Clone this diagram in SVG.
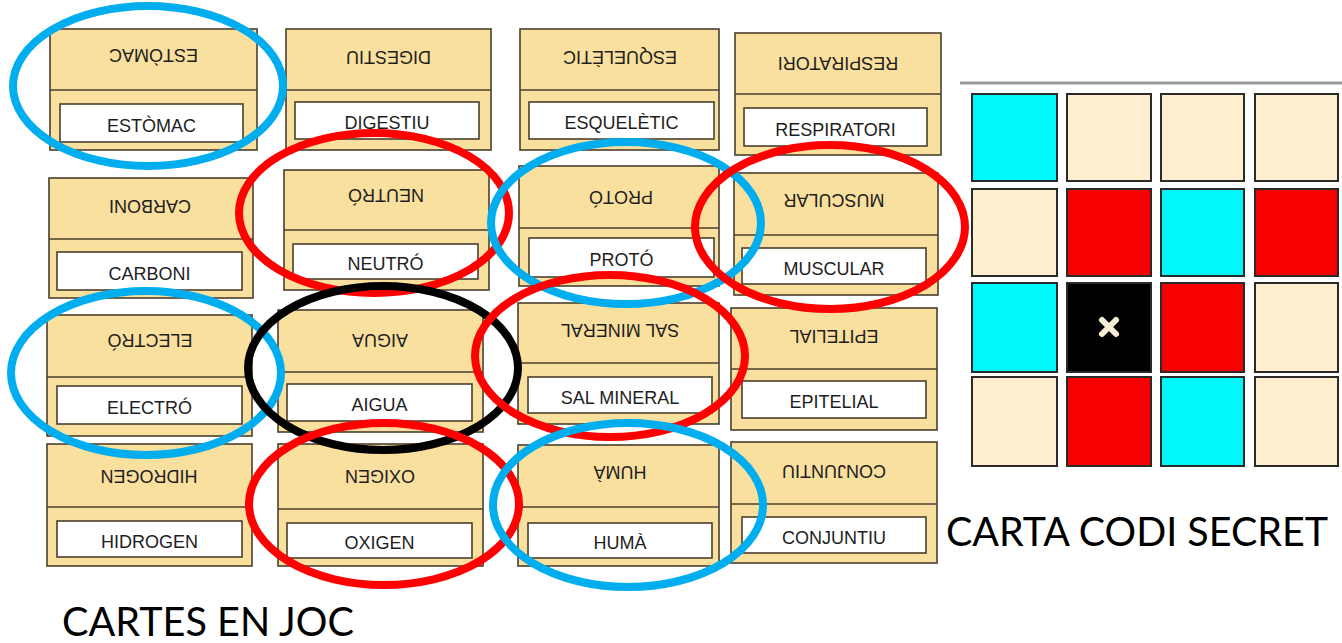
<svg xmlns="http://www.w3.org/2000/svg" width="1342" height="643" viewBox="0 0 1342 643">
<style>
.card{fill:#FAE09F;stroke:#4a3f2c;stroke-width:1.6}
.div{stroke:#4a3f2c;stroke-width:1.6}
.box{fill:#ffffff;stroke:#4a3f2c;stroke-width:1.6}
.t{font-family:"Liberation Sans",Arial,sans-serif;font-size:18px;fill:#1e1e1e;text-anchor:middle}
.ring{fill:none;stroke-width:8}
.blue{stroke:#00AEEF}
.red{stroke:#FF0000}
.black{stroke:#000000}
.cell{stroke:#2a2a2a;stroke-width:2}
.cy{fill:#00F8FA}
.rd{fill:#F60000}
.bg{fill:#FFEFCF}
.bk{fill:#000000}
.big{font-family:Lato,"Open Sans",sans-serif;font-size:41px;fill:#000}
</style>
<rect width="1342" height="643" fill="#ffffff"/>
<g id="cards">
<g id="card-estomac"><rect class="card" x="50" y="29" width="207" height="121"/><line class="div" x1="50" y1="90" x2="257" y2="90"/><rect class="box" x="60" y="104" width="183" height="38"/><text class="t" x="153.5" y="61.5" transform="rotate(180 153.5 55)">ESTÒMAC</text><text class="t" x="151.5" y="131.5">ESTÒMAC</text></g>
<g id="card-digestiu"><rect class="card" x="286" y="29" width="205" height="121"/><line class="div" x1="286" y1="90" x2="491" y2="90"/><rect class="box" x="295" y="102" width="184" height="37"/><text class="t" x="388.5" y="63.5" transform="rotate(180 388.5 57)">DIGESTIU</text><text class="t" x="387" y="129">DIGESTIU</text></g>
<g id="card-esqueletic"><rect class="card" x="520" y="29" width="199" height="121"/><line class="div" x1="520" y1="90" x2="719" y2="90"/><rect class="box" x="529" y="102" width="185" height="37"/><text class="t" x="620" y="63.5" transform="rotate(180 620 57)">ESQUELÈTIC</text><text class="t" x="621.5" y="129">ESQUELÈTIC</text></g>
<g id="card-respiratori"><rect class="card" x="735" y="33" width="206" height="122"/><line class="div" x1="735" y1="94" x2="941" y2="94"/><rect class="box" x="744" y="108" width="183" height="38"/><text class="t" x="838" y="69.5" transform="rotate(180 838 63)">RESPIRATORI</text><text class="t" x="835.5" y="135.5">RESPIRATORI</text></g>
<g id="card-carboni"><rect class="card" x="49" y="178" width="204" height="120"/><line class="div" x1="49" y1="239" x2="253" y2="239"/><rect class="box" x="57" y="252" width="185" height="38"/><text class="t" x="150" y="212.5" transform="rotate(180 150 206)">CARBONI</text><text class="t" x="149.5" y="279.5">CARBONI</text></g>
<g id="card-neutro"><rect class="card" x="284" y="170" width="205" height="120"/><line class="div" x1="284" y1="230" x2="489" y2="230"/><rect class="box" x="293" y="244" width="185" height="35"/><text class="t" x="386" y="201.5" transform="rotate(180 386 195)">NEUTRÓ</text><text class="t" x="385.5" y="270">NEUTRÓ</text></g>
<g id="card-proto"><rect class="card" x="519" y="166" width="200" height="120"/><line class="div" x1="519" y1="228" x2="719" y2="228"/><rect class="box" x="529" y="238" width="185" height="39"/><text class="t" x="621" y="203.5" transform="rotate(180 621 197)">PROTÓ</text><text class="t" x="621.5" y="266">PROTÓ</text></g>
<g id="card-muscular"><rect class="card" x="734" y="173" width="204" height="122"/><line class="div" x1="734" y1="235" x2="938" y2="235"/><rect class="box" x="742" y="248" width="184" height="36"/><text class="t" x="834" y="206.5" transform="rotate(180 834 200)">MUSCULAR</text><text class="t" x="834" y="274.5">MUSCULAR</text></g>
<g id="card-electro"><rect class="card" x="47" y="315" width="205" height="121"/><line class="div" x1="47" y1="377" x2="252" y2="377"/><rect class="box" x="57" y="386" width="185" height="38"/><text class="t" x="150" y="346.5" transform="rotate(180 150 340)">ELECTRÓ</text><text class="t" x="149.5" y="413.5">ELECTRÓ</text></g>
<g id="card-aigua"><rect class="card" x="278" y="310" width="205" height="122"/><line class="div" x1="278" y1="372" x2="483" y2="372"/><rect class="box" x="287" y="384" width="185" height="37"/><text class="t" x="380" y="346.5" transform="rotate(180 380 340)">AIGUA</text><text class="t" x="379.5" y="411">AIGUA</text></g>
<g id="card-sal-mineral"><rect class="card" x="518" y="303" width="201" height="121"/><line class="div" x1="518" y1="363" x2="719" y2="363"/><rect class="box" x="528" y="377" width="184" height="36"/><text class="t" x="620" y="336.5" transform="rotate(180 620 330)">SAL MINERAL</text><text class="t" x="620" y="403.5">SAL MINERAL</text></g>
<g id="card-epitelial"><rect class="card" x="731" y="308" width="206" height="122"/><line class="div" x1="731" y1="369" x2="937" y2="369"/><rect class="box" x="742" y="381" width="184" height="37"/><text class="t" x="834" y="342.5" transform="rotate(180 834 336)">EPITELIAL</text><text class="t" x="834" y="408">EPITELIAL</text></g>
<g id="card-hidrogen"><rect class="card" x="47" y="444" width="205" height="122"/><line class="div" x1="47" y1="507" x2="252" y2="507"/><rect class="box" x="57" y="521" width="185" height="36"/><text class="t" x="149" y="482.5" transform="rotate(180 149 476)">HIDROGEN</text><text class="t" x="149.5" y="547.5">HIDROGEN</text></g>
<g id="card-oxigen"><rect class="card" x="278" y="444" width="205" height="122"/><line class="div" x1="278" y1="509" x2="483" y2="509"/><rect class="box" x="287" y="523" width="185" height="35"/><text class="t" x="380" y="482.5" transform="rotate(180 380 476)">OXIGEN</text><text class="t" x="379.5" y="549">OXIGEN</text></g>
<g id="card-huma"><rect class="card" x="518" y="445" width="201" height="121"/><line class="div" x1="518" y1="507" x2="719" y2="507"/><rect class="box" x="528" y="523" width="184" height="35"/><text class="t" x="620" y="478.5" transform="rotate(180 620 472)">HUMÀ</text><text class="t" x="620" y="549">HUMÀ</text></g>
<g id="card-conjuntiu"><rect class="card" x="731" y="442" width="206" height="121"/><line class="div" x1="731" y1="504" x2="937" y2="504"/><rect class="box" x="742" y="517" width="184" height="36"/><text class="t" x="834" y="477.5" transform="rotate(180 834 471)">CONJUNTIU</text><text class="t" x="834" y="543.5">CONJUNTIU</text></g>
</g>
<g id="connectors">
<ellipse class="ring blue" cx="148" cy="86" rx="135" ry="80"/>
<ellipse class="ring red" cx="374" cy="213" rx="135" ry="80"/>
<ellipse class="ring blue" cx="626" cy="223" rx="135" ry="81"/>
<ellipse class="ring red" cx="830" cy="227" rx="135" ry="82"/>
<ellipse class="ring blue" cx="146" cy="373" rx="135" ry="82"/>
<ellipse class="ring black" cx="383" cy="368" rx="135" ry="82"/>
<ellipse class="ring red" cx="610" cy="356" rx="135" ry="81"/>
<ellipse class="ring red" cx="384" cy="504" rx="135" ry="81"/>
<ellipse class="ring blue" cx="628" cy="505" rx="135" ry="82"/>
</g>
<g id="secret-card">
<line x1="960" y1="83" x2="1342" y2="83" stroke="#9a9a9a" stroke-width="3"/>
<rect class="cell cy" x="972" y="94" width="85" height="87"/>
<rect class="cell bg" x="1067" y="94" width="84" height="87"/>
<rect class="cell bg" x="1161" y="94" width="83" height="87"/>
<rect class="cell bg" x="1255" y="94" width="83" height="87"/>
<rect class="cell bg" x="972" y="189" width="85" height="87"/>
<rect class="cell rd" x="1067" y="189" width="84" height="87"/>
<rect class="cell cy" x="1161" y="189" width="83" height="87"/>
<rect class="cell rd" x="1255" y="189" width="83" height="87"/>
<rect class="cell cy" x="972" y="283" width="85" height="89"/>
<rect class="cell bk" x="1067" y="283" width="84" height="89"/>
<rect class="cell rd" x="1161" y="283" width="83" height="89"/>
<rect class="cell bg" x="1255" y="283" width="83" height="89"/>
<rect class="cell bg" x="972" y="377" width="85" height="89"/>
<rect class="cell rd" x="1067" y="377" width="84" height="89"/>
<rect class="cell cy" x="1161" y="377" width="83" height="89"/>
<rect class="cell bg" x="1255" y="377" width="83" height="89"/>
<path d="M1102 320 L1116 334 M1116 320 L1102 334" stroke="#F6EED2" stroke-width="6" stroke-linecap="round"/>
</g>
<text class="big" x="946" y="546" textLength="382" lengthAdjust="spacingAndGlyphs">CARTA CODI SECRET</text>
<text class="big" x="62" y="636" textLength="292" lengthAdjust="spacingAndGlyphs">CARTES EN JOC</text>
</svg>
